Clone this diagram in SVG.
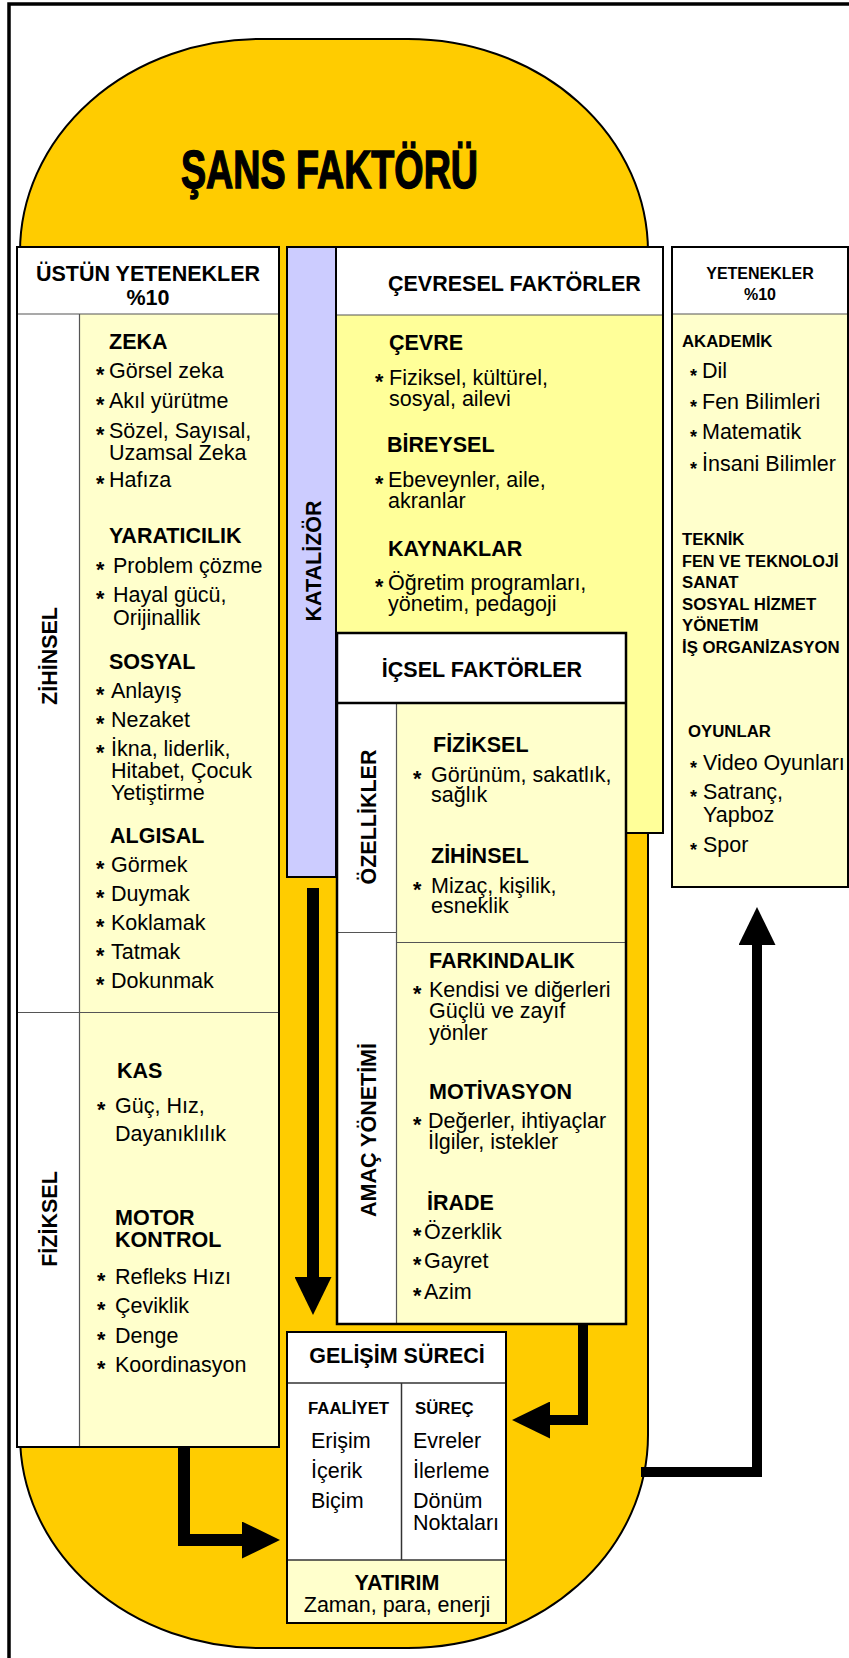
<svg xmlns="http://www.w3.org/2000/svg" width="849" height="1658" viewBox="0 0 849 1658">
<style>
text{font-family:"Liberation Sans",Arial,sans-serif;font-size:21.5px;fill:#000}
.b{font-weight:bold}
.m{text-anchor:middle}
.st{font-weight:bold;font-size:21.5px}
.sts{font-weight:bold;font-size:18px}
.sm{font-weight:bold;font-size:16.8px}
.hd{font-weight:bold;font-size:16px}
.box{fill:none;stroke:#000;stroke-width:2}
.thin{stroke:#555;stroke-width:1.2}
.conn{fill:none;stroke:#000;stroke-linejoin:miter}
</style>
<defs>
<marker id="ah" markerUnits="userSpaceOnUse" markerWidth="38" markerHeight="37" viewBox="0 0 38 37" refX="1" refY="18.5" orient="auto">
<path d="M0,0 L38,18.5 L0,37 Z" fill="#000"/>
</marker>
</defs>
<rect x="0" y="0" width="849" height="1658" fill="#fff"/>
<rect x="9" y="4" width="900" height="1700" fill="none" stroke="#000" stroke-width="3.5"/>

<g id="sans-faktoru">
<rect x="20" y="39" width="628" height="1609" rx="240" ry="213" fill="#FFCC00" stroke="#000" stroke-width="2"/>
<text x="181" y="188" textLength="297" lengthAdjust="spacingAndGlyphs" style="font-weight:bold;font-size:54px;stroke:#000;stroke-width:1.5">ŞANS FAKTÖRÜ</text>
</g>

<g id="ustun-yetenekler">
<rect x="17" y="247" width="262" height="1200" fill="#fff"/>
<rect x="79" y="314" width="200" height="1133" fill="#FFFFCC"/>
<line x1="17" y1="314" x2="279" y2="314" class="thin"/>
<line x1="79.5" y1="314" x2="79.5" y2="1447" class="thin"/>
<line x1="17" y1="1012.5" x2="279" y2="1012.5" class="thin"/>
<rect x="17" y="247" width="262" height="1200" class="box"/>
<text x="148" y="281" class="b m">ÜSTÜN YETENEKLER</text>
<text x="148" y="305" class="b m">%10</text>
<text transform="translate(56.5,656) rotate(-90)" class="b m">ZİHİNSEL</text>
<text transform="translate(56.5,1219) rotate(-90)" class="b m">FİZİKSEL</text>
<text x="109" y="349" class="b">ZEKA</text>
<text y="378"><tspan class="st" x="96" dy="4">*</tspan><tspan x="109" dy="-4">Görsel zeka</tspan></text>
<text y="408"><tspan class="st" x="96" dy="4">*</tspan><tspan x="109" dy="-4">Akıl yürütme</tspan></text>
<text y="438"><tspan class="st" x="96" dy="4">*</tspan><tspan x="109" dy="-4">Sözel, Sayısal,</tspan></text>
<text x="109" y="460">Uzamsal Zeka</text>
<text y="487"><tspan class="st" x="96" dy="4">*</tspan><tspan x="109" dy="-4">Hafıza</tspan></text>
<text x="109" y="543" class="b">YARATICILIK</text>
<text y="573"><tspan class="st" x="96" dy="4">*</tspan><tspan x="113" dy="-4">Problem çözme</tspan></text>
<text y="602"><tspan class="st" x="96" dy="4">*</tspan><tspan x="113" dy="-4">Hayal gücü,</tspan></text>
<text x="113" y="625">Orijinallik</text>
<text x="109" y="669" class="b">SOSYAL</text>
<text y="698"><tspan class="st" x="96" dy="4">*</tspan><tspan x="111" dy="-4">Anlayış</tspan></text>
<text y="727"><tspan class="st" x="96" dy="4">*</tspan><tspan x="111" dy="-4">Nezaket</tspan></text>
<text y="756"><tspan class="st" x="96" dy="4">*</tspan><tspan x="111" dy="-4">İkna, liderlik,</tspan></text>
<text x="111" y="778">Hitabet, Çocuk</text>
<text x="111" y="800">Yetiştirme</text>
<text x="110" y="843" class="b">ALGISAL</text>
<text y="872"><tspan class="st" x="96" dy="4">*</tspan><tspan x="111" dy="-4">Görmek</tspan></text>
<text y="901"><tspan class="st" x="96" dy="4">*</tspan><tspan x="111" dy="-4">Duymak</tspan></text>
<text y="930"><tspan class="st" x="96" dy="4">*</tspan><tspan x="111" dy="-4">Koklamak</tspan></text>
<text y="959"><tspan class="st" x="96" dy="4">*</tspan><tspan x="111" dy="-4">Tatmak</tspan></text>
<text y="988"><tspan class="st" x="96" dy="4">*</tspan><tspan x="111" dy="-4">Dokunmak</tspan></text>
<text x="117" y="1078" class="b">KAS</text>
<text y="1113"><tspan class="st" x="97" dy="4">*</tspan><tspan x="115" dy="-4">Güç, Hız,</tspan></text>
<text x="115" y="1141">Dayanıklılık</text>
<text x="115" y="1225" class="b">MOTOR</text>
<text x="115" y="1247" class="b">KONTROL</text>
<text y="1284"><tspan class="st" x="97" dy="4">*</tspan><tspan x="115" dy="-4">Refleks Hızı</tspan></text>
<text y="1313"><tspan class="st" x="97" dy="4">*</tspan><tspan x="115" dy="-4">Çeviklik</tspan></text>
<text y="1343"><tspan class="st" x="97" dy="4">*</tspan><tspan x="115" dy="-4">Denge</tspan></text>
<text y="1372"><tspan class="st" x="97" dy="4">*</tspan><tspan x="115" dy="-4">Koordinasyon</tspan></text>
</g>

<g id="katalizor">
<rect x="287" y="247" width="49" height="630" fill="#CCCCFF" stroke="#000" stroke-width="2"/>
<text transform="translate(320.5,561) rotate(-90)" class="b m">KATALİZÖR</text>
</g>

<g id="cevresel-faktorler">
<rect x="336" y="247" width="327" height="586" fill="#FFFF99"/>
<rect x="336" y="247" width="327" height="68" fill="#fff"/>
<line x1="336" y1="315" x2="663" y2="315" class="thin"/>
<rect x="336" y="247" width="327" height="586" class="box"/>
<text x="388" y="291" class="b">ÇEVRESEL FAKTÖRLER</text>
<text x="389" y="350" class="b">ÇEVRE</text>
<text y="385"><tspan class="st" x="375" dy="4">*</tspan><tspan x="389" dy="-4">Fiziksel, kültürel,</tspan></text>
<text x="389" y="406">sosyal, ailevi</text>
<text x="387" y="452" class="b">BİREYSEL</text>
<text y="487"><tspan class="st" x="375" dy="4">*</tspan><tspan x="388" dy="-4">Ebeveynler, aile,</tspan></text>
<text x="388" y="508">akranlar</text>
<text x="388" y="556" class="b">KAYNAKLAR</text>
<text y="590"><tspan class="st" x="375" dy="4">*</tspan><tspan x="388" dy="-4">Öğretim programları,</tspan></text>
<text x="388" y="611">yönetim, pedagoji</text>
</g>

<g id="icsel-faktorler">
<rect x="337" y="633" width="289" height="691" fill="#fff"/>
<rect x="396" y="703" width="230" height="621" fill="#FFFFCC"/>
<line x1="396.5" y1="703" x2="396.5" y2="1324" class="thin"/>
<line x1="337" y1="932.5" x2="396" y2="932.5" class="thin"/>
<line x1="396" y1="942.5" x2="626" y2="942.5" class="thin"/>
<line x1="337" y1="703" x2="626" y2="703" stroke="#000" stroke-width="2.5"/>
<rect x="337" y="633" width="289" height="691" fill="none" stroke="#000" stroke-width="2.5"/>
<text x="482" y="677" class="b m">İÇSEL FAKTÖRLER</text>
<text transform="translate(375.5,817) rotate(-90)" class="b m">ÖZELLİKLER</text>
<text transform="translate(375.5,1130) rotate(-90)" class="b m">AMAÇ YÖNETİMİ</text>
<text x="433" y="752" class="b">FİZİKSEL</text>
<text y="782"><tspan class="st" x="413" dy="4">*</tspan><tspan x="431" dy="-4">Görünüm, sakatlık,</tspan></text>
<text x="431" y="802">sağlık</text>
<text x="431" y="863" class="b">ZİHİNSEL</text>
<text y="893"><tspan class="st" x="413" dy="4">*</tspan><tspan x="431" dy="-4">Mizaç, kişilik,</tspan></text>
<text x="431" y="913">esneklik</text>
<text x="429" y="968" class="b">FARKINDALIK</text>
<text y="997"><tspan class="st" x="413" dy="4">*</tspan><tspan x="429" dy="-4">Kendisi ve diğerleri</tspan></text>
<text x="429" y="1018">Güçlü ve zayıf</text>
<text x="429" y="1040">yönler</text>
<text x="429" y="1099" class="b">MOTİVASYON</text>
<text y="1128"><tspan class="st" x="413" dy="4">*</tspan><tspan x="428" dy="-4">Değerler, ihtiyaçlar</tspan></text>
<text x="428" y="1149">İlgiler, istekler</text>
<text x="427" y="1210" class="b">İRADE</text>
<text y="1239"><tspan class="st" x="413" dy="4">*</tspan><tspan x="424" dy="-4">Özerklik</tspan></text>
<text y="1268"><tspan class="st" x="413" dy="4">*</tspan><tspan x="424" dy="-4">Gayret</tspan></text>
<text y="1299"><tspan class="st" x="413" dy="4">*</tspan><tspan x="424" dy="-4">Azim</tspan></text>
</g>

<g id="gelisim-sureci">
<rect x="287" y="1332" width="219" height="291" fill="#fff"/>
<rect x="287" y="1560" width="219" height="63" fill="#FFFFCC"/>
<line x1="287" y1="1383" x2="506" y2="1383" stroke="#333" stroke-width="1.5"/>
<line x1="401.5" y1="1383" x2="401.5" y2="1560" stroke="#333" stroke-width="1.5"/>
<line x1="287" y1="1560" x2="506" y2="1560" stroke="#333" stroke-width="1.5"/>
<rect x="287" y="1332" width="219" height="291" class="box"/>
<text x="397" y="1363" class="b m">GELİŞİM SÜRECİ</text>
<text x="308" y="1414" class="sm">FAALİYET</text>
<text x="415" y="1414" class="sm">SÜREÇ</text>
<text x="311" y="1448">Erişim</text>
<text x="311" y="1478">İçerik</text>
<text x="311" y="1508">Biçim</text>
<text x="413" y="1448">Evreler</text>
<text x="413" y="1478">İlerleme</text>
<text x="413" y="1508">Dönüm</text>
<text x="413" y="1530">Noktaları</text>
<text x="397" y="1590" class="b m">YATIRIM</text>
<text x="397" y="1612" class="m">Zaman, para, enerji</text>
</g>

<g id="yetenekler">
<rect x="672" y="247" width="176" height="640" fill="#FFFFCC"/>
<rect x="672" y="247" width="176" height="67" fill="#fff"/>
<line x1="672" y1="314" x2="848" y2="314" class="thin"/>
<rect x="672" y="247" width="176" height="640" class="box"/>
<text x="760" y="279" class="hd m">YETENEKLER</text>
<text x="760" y="300" class="hd m">%10</text>
<text x="682" y="347" class="sm">AKADEMİK</text>
<text y="378"><tspan class="sts" x="690" dy="3.5">*</tspan><tspan x="702" dy="-3.5">Dil</tspan></text>
<text y="409"><tspan class="sts" x="690" dy="3.5">*</tspan><tspan x="702" dy="-3.5">Fen Bilimleri</tspan></text>
<text y="439"><tspan class="sts" x="690" dy="3.5">*</tspan><tspan x="702" dy="-3.5">Matematik</tspan></text>
<text y="471"><tspan class="sts" x="690" dy="3.5">*</tspan><tspan x="702" dy="-3.5">İnsani Bilimler</tspan></text>
<text x="682" y="545" class="sm">TEKNİK</text>
<text x="682" y="566.5" class="sm" style="font-size:16.3px">FEN VE TEKNOLOJİ</text>
<text x="682" y="588" class="sm">SANAT</text>
<text x="682" y="609.5" class="sm">SOSYAL HİZMET</text>
<text x="682" y="631" class="sm">YÖNETİM</text>
<text x="682" y="652.5" class="sm">İŞ ORGANİZASYON</text>
<text x="688" y="737" class="sm">OYUNLAR</text>
<text y="770"><tspan class="sts" x="690" dy="3.5">*</tspan><tspan x="703" dy="-3.5">Video Oyunları</tspan></text>
<text y="799"><tspan class="sts" x="690" dy="3.5">*</tspan><tspan x="703" dy="-3.5">Satranç,</tspan></text>
<text x="703" y="822">Yapboz</text>
<text y="852"><tspan class="sts" x="690" dy="3.5">*</tspan><tspan x="703" dy="-3.5">Spor</tspan></text>
</g>

<g id="connectors">
<polyline class="conn" stroke-width="12" points="313,888 313,1278" marker-end="url(#ah)"/>
<polyline class="conn" stroke-width="12" points="184,1447 184,1540 243,1540" marker-end="url(#ah)"/>
<polyline class="conn" stroke-width="10" points="583,1324 583,1420 549,1420" marker-end="url(#ah)"/>
<polyline class="conn" stroke-width="10" points="641,1472 757,1472 757,944" marker-end="url(#ah)"/>
</g>
</svg>
